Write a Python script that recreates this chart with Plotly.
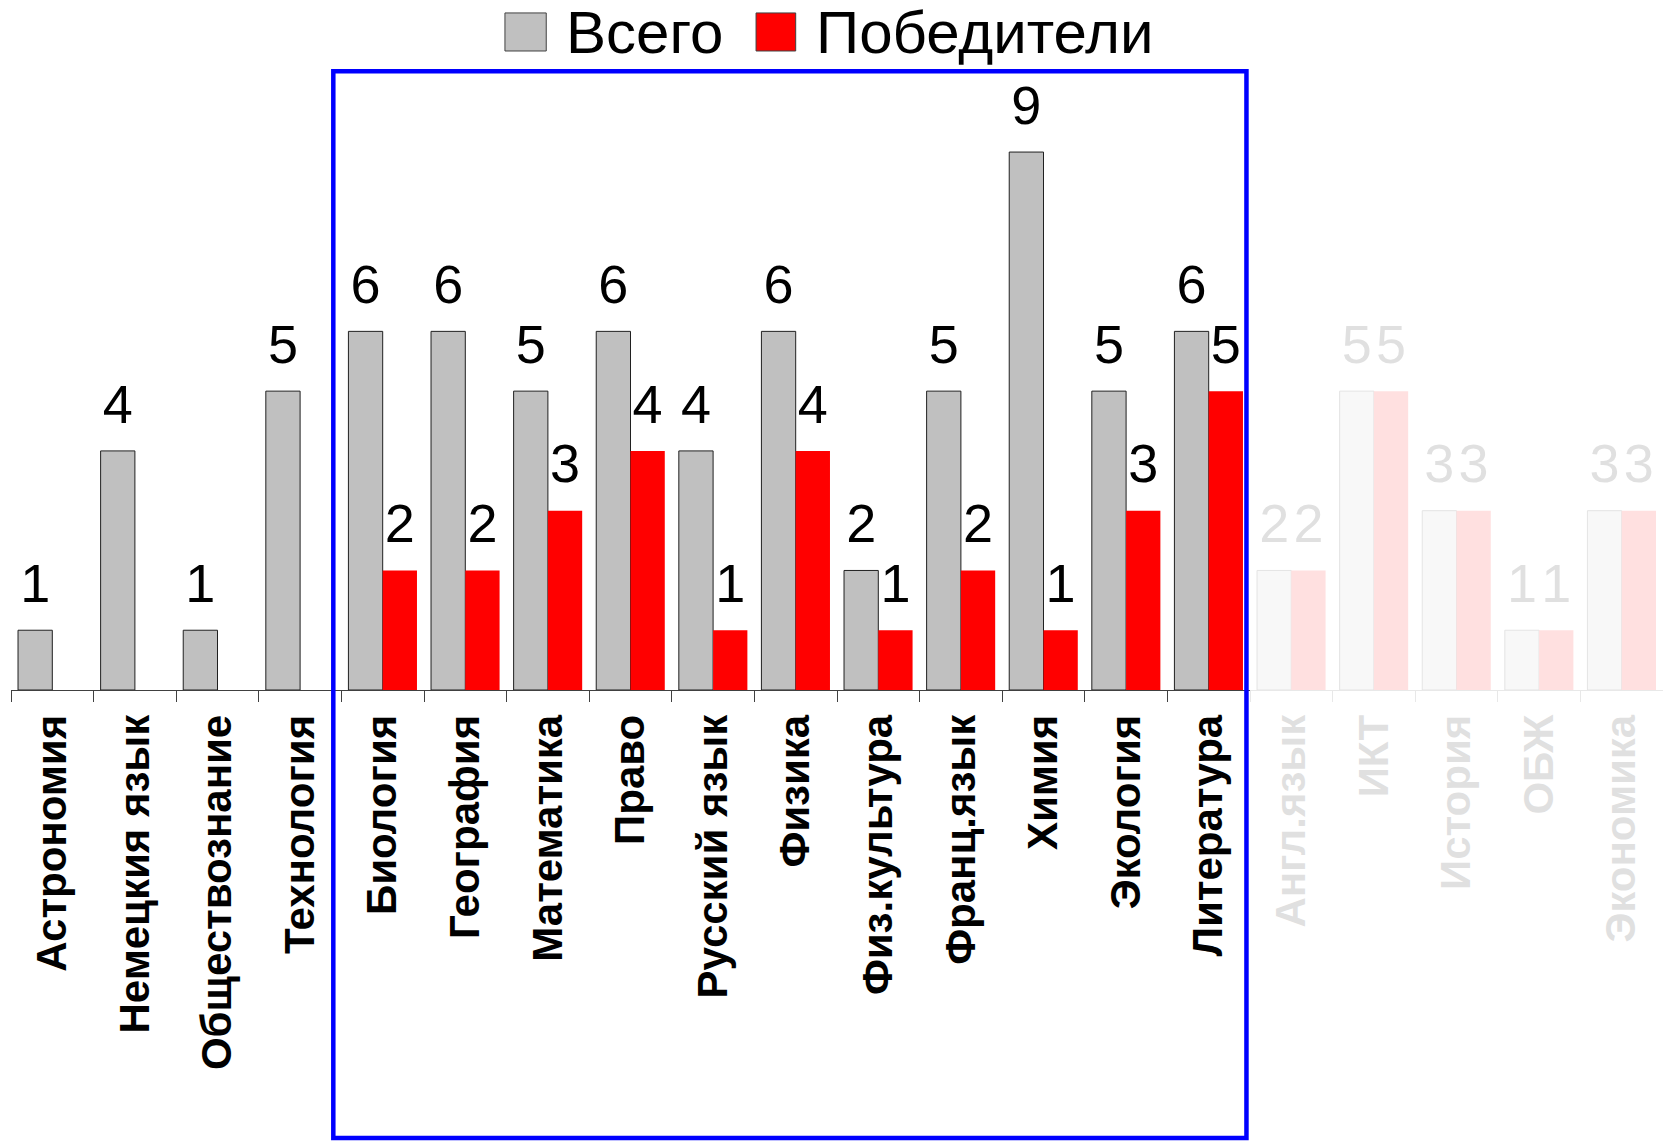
import plotly.graph_objects as go

# ---- данные ----
categories = ["Астрономия", "Немецкия язык", "Обществознание", "Технология",
              "Биология", "География", "Математика", "Право", "Русский язык",
              "Физика", "Физ.культура", "Франц.язык", "Химия", "Экология",
              "Литература", "Англ.язык", "ИКТ", "История", "ОБЖ", "Экономика"]
vsego = [1, 4, 1, 5, 6, 6, 5, 6, 4, 6, 2, 5, 9, 5, 6, 2, 5, 3, 1, 3]
pobediteli = [None, None, None, None, 2, 2, 3, 4, 1, 4, 1, 2, 1, 3, 5, 2, 5, 3, 1, 3]

FONT = "Arial, Liberation Sans, sans-serif"
GAP = 0.17

fig = go.Figure()
fig.add_bar(x=categories, y=vsego, name="Всего",
            marker=dict(color="#c0c0c0", line=dict(color="#202020", width=1)))
fig.add_bar(x=categories, y=pobediteli, name="Победители",
            marker=dict(color="#ff0000", line=dict(width=0)))

# подписи значений (сгруппированы так же, как столбцы)
for vals in (vsego, pobediteli):
    fig.add_scatter(x=categories, y=vals, mode="markers+text",
                    text=vals, textposition="top center",
                    marker=dict(size=22, color="rgba(0,0,0,0)"),
                    textfont=dict(family=FONT, size=54, color="black"),
                    cliponaxis=False, hoverinfo="skip")

# ---- ручная легенда (крупные квадраты) ----
legend_items = [("Всего", "#c0c0c0", 0.299, 0.324, 0.3354),
                ("Победители", "#ff0000", 0.451, 0.475, 0.4867)]
shapes = []
annotations = []
for name, col, x0, x1, tx in legend_items:
    shapes.append(dict(type="rect", xref="paper", yref="paper",
                       x0=x0, x1=x1, y0=1.0143, y1=1.0747,
                       fillcolor=col, line=dict(color="#404040", width=1)))
    annotations.append(dict(text=name, xref="paper", yref="paper",
                            x=tx, y=1.0444, xanchor="left", yanchor="middle",
                            showarrow=False, borderpad=0,
                            font=dict(family=FONT, size=60, color="black")))

# выцветание правой части
shapes.append(dict(type="rect", xref="x", yref="paper", layer="above",
                   x0=14.5, x1=20, y0=-0.75, y1=1.0,
                   fillcolor="rgba(255,255,255,0.88)", line=dict(width=0)))
# синяя рамка
shapes.append(dict(type="rect", xref="x", yref="paper", layer="above",
                   x0=3.402, x1=14.457, y0=-0.711, y1=0.982,
                   line=dict(color="#0000ff", width=4.5)))

fig.update_layout(
    width=1671, height=1142,
    margin=dict(l=3, r=16, t=52, b=460),
    paper_bgcolor="white", plot_bgcolor="white",
    showlegend=False,
    barmode="group", bargap=GAP, bargroupgap=0,
    scattermode="group", scattergap=GAP,
    shapes=shapes, annotations=annotations,
    xaxis=dict(
        type="category", automargin=False,
        tickangle=-90, tickfont=dict(family=FONT, size=42, color="black", weight="bold"),
        range=[-0.5, len(categories) - 0.5],
        showline=True, linecolor="#404040", linewidth=1,
        ticks="outside", tickson="boundaries", ticklen=11, tickcolor="#404040",
        ticklabelstandoff=7, showgrid=False, zeroline=False,
    ),
    yaxis=dict(range=[0, 10.54], visible=False, showgrid=False,
               zeroline=False, automargin=False),
)

fig.write_html("out.html")
